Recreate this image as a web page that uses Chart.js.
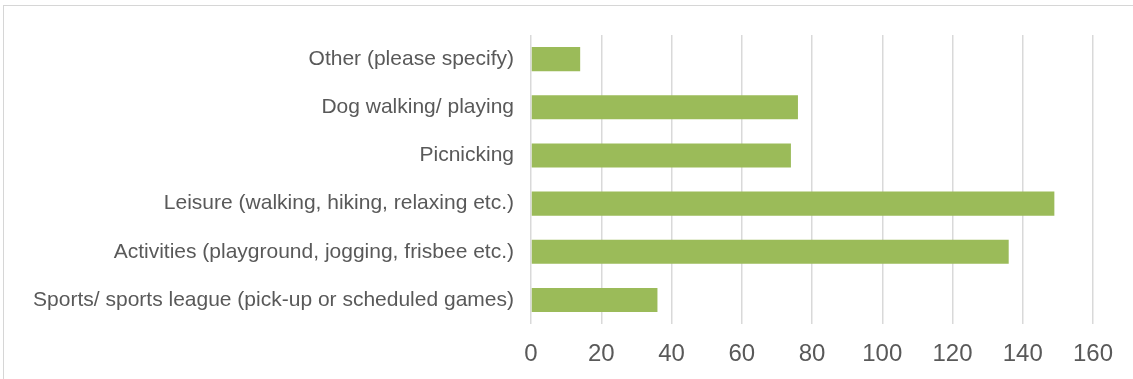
<!DOCTYPE html>
<html>
<head>
<meta charset="utf-8">
<script src="https://cdn.jsdelivr.net/npm/chart.js@4"></script>
<style>
  html, body { margin: 0; padding: 0; background: #fff; overflow: hidden; }
  #frame {
    position: absolute; left: 3px; top: 5px;
    width: 1200px; height: 420px;
    border: 1px solid #d6d6d6;
  }
  #wrap { position: absolute; left: 0; top: 0; width: 1133px; height: 379px; }
</style>
</head>
<body>
<div id="frame"></div>
<div id="wrap"><canvas id="grafico"></canvas></div>
<script>
// categorias de arriba hacia abajo
const categories = [
  "Other (please specify)",
  "Dog walking/ playing",
  "Picnicking",
  "Leisure (walking, hiking, relaxing etc.)",
  "Activities (playground, jogging, frisbee etc.)",
  "Sports/ sports league (pick-up or scheduled games)"
];
const counts = [14, 76, 74, 149, 136, 36];
const xTicks = [0, 20, 40, 60, 80, 100, 120, 140, 160];

const gris = "#595959";

const ctx = document.getElementById("grafico").getContext("2d");
const myChart = new Chart(ctx, {
  type: "bar",
  data: {
    labels: categories,
    datasets: [
      {
        data: counts,
        backgroundColor: "#9bbb59",
        borderWidth: 0,
        barPercentage: 0.5,
        categoryPercentage: 1.0,
      },
    ],
  },
  options: {
    indexAxis: "y",
    responsive: true,
    maintainAspectRatio: false,
    animation: false,
    layout: { padding: { top: 35, right: 40, bottom: 0, left: 0 } },
    plugins: {
      legend: { display: false },
      tooltip: { enabled: false },
    },
    scales: {
      x: {
        min: xTicks[0],
        max: xTicks[xTicks.length - 1],
        afterBuildTicks: (axis) => {
          axis.ticks = xTicks.map((v) => ({ value: v }));
        },
        border: { display: false },
        grid: { color: "#d9d9d9", lineWidth: 1.5, drawTicks: false },
        ticks: {
          color: gris,
          padding: 16,
          font: { family: "'Liberation Sans', Arial, sans-serif", size: 24 },
        },
        afterFit: (axis) => { axis.height = 55; },
      },
      y: {
        border: { display: false },
        grid: { display: false },
        ticks: {
          color: gris,
          padding: 9,
          font: { family: "'Liberation Sans', Arial, sans-serif", size: 21 },
        },
        afterFit: (axis) => { axis.width = 531; },
      },
    },
  },
});
</script>
</body>
</html>
